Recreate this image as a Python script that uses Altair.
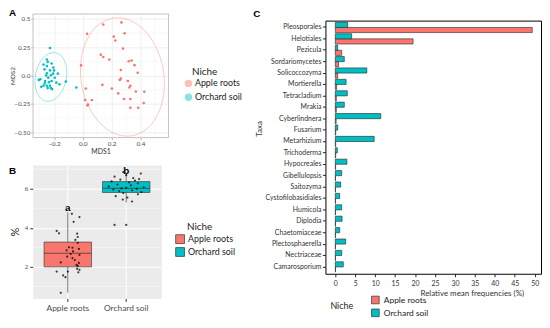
import altair as alt
import pandas as pd
import numpy as np

RED = "#F8766D"
TEAL = "#00BFC4"
FONT = "Lato"
niches = ["Apple roots", "Orchard soil"]

# ---------------- Panel A : NMDS ----------------
apple_mds1 = [0.142, 0.268, 0.030, 0.215, 0.290, 0.226, 0.279, 0.125, 0.142, 0.184, 0.319, 0.339,
              0.359, -0.012, 0.264, 0.381, 0.264, 0.257, 0.313, 0.330, 0.323, 0.136, 0.202, 0.021,
              0.368, 0.427, 0.246, 0.286, 0.330, 0.423, 0.015, 0.063, 0.036, 0.032, 0.330, 0.385]
apple_mds2 = [0.450, 0.468, 0.367, 0.343, 0.372, 0.309, 0.237, 0.184, 0.163, 0.141, 0.126, 0.132,
              0.091, 0.089, 0.048, 0.024, -0.028, -0.039, -0.048, -0.091, -0.106, -0.083, -0.115, -0.115,
              -0.141, -0.143, -0.158, -0.207, -0.207, -0.242, -0.216, -0.216, -0.257, -0.265, -0.285, -0.285]
soil_mds1 = [-0.228, -0.250, -0.244, -0.273, -0.217, -0.250, -0.266, -0.228, -0.200, -0.250, -0.207, -0.174,
             -0.222, -0.240, -0.295, -0.306, -0.262, -0.217, -0.184, -0.118, -0.273, -0.250, -0.228, -0.222,
             -0.213, -0.244, -0.288, -0.162, -0.045, -0.255, -0.235, -0.195, -0.265, -0.205]
soil_mds2 = [0.242, 0.141, 0.120, 0.097, 0.106, 0.083, 0.054, 0.045, 0.045, 0.019, 0.016, 0.016,
             0.002, -0.019, -0.033, -0.039, -0.048, -0.048, -0.063, -0.054, -0.091, -0.091, -0.091, -0.111,
             -0.120, -0.111, -0.100, -0.077, -0.106, 0.000, -0.060, -0.020, -0.070, 0.070]

# stat_ellipse outlines: centre, half-extents and covariance term
ell_cx = [0.275, -0.222]
ell_cy = [-0.013, -0.013]
ell_w = [0.2914, 0.1106]
ell_h = [0.5217, 0.2148]
ell_c = [-0.01728, 0.00426]

A_x_ticks = [-0.2, 0.0, 0.2, 0.4]
A_x_minor = [-0.3, -0.1, 0.1, 0.3, 0.5]
A_y_ticks = [-0.5, -0.25, 0.0, 0.25, 0.5]
A_y_labels = ["\u22120.50", "\u22120.25", "0.0", "0.25", "0.5"]
A_y_minor = [-0.375, -0.125, 0.125, 0.375]

# ---------------- Panel B : boxplot ----------------
apple_pct = [4.72, 4.55, 4.31, 3.84, 3.72, 3.70, 3.53, 3.38, 3.23, 3.00, 2.98, 2.92, 2.85, 2.79, 2.66, 2.62,
             2.53, 2.45, 2.35, 2.23, 2.20, 2.10, 2.05, 1.90, 1.85, 1.76, 1.76, 1.72, 1.56, 1.47, 0.67]
apple_jit = [0.07, 0.20, 0.10, -0.19, -0.15, 0.16, 0.17, 0.13, 0.17, 0.02, 0.08, 0.19, -0.02, 0.09, 0.05, 0.20,
             -0.01, 0.08, 0.12, -0.12, 0.19, 0.15, 0.17, 0.16, 0.20, -0.19, 0.00, 0.18, -0.08, -0.04, -0.12]
soil_pct = [6.85, 6.78, 6.70, 6.62, 6.55, 6.50, 6.47, 6.42, 6.38, 6.33, 6.28, 6.22, 6.18, 6.12, 6.08, 6.05,
            6.02, 6.00, 5.96, 5.92, 5.88, 5.83, 5.78, 5.72, 5.62, 5.55, 5.45, 5.35, 4.15, 4.15]
soil_jit = [-0.05, 0.25, 0.00, -0.20, 0.12, 0.22, -0.10, 0.15, -0.25, 0.05, 0.20, -0.15, 0.08, -0.30, 0.30, 0.00,
            -0.08, 0.18, -0.22, 0.10, -0.12, 0.26, -0.05, 0.20, -0.18, 0.02, -0.06, 0.10, -0.20, 0.00]
box_lower = [0.68, 5.30]
box_q1 = [2.00, 5.81]
box_median = [2.70, 6.03]
box_q3 = [3.27, 6.37]
box_upper = [4.80, 6.75]
sig_letters = ["a", "b"]
sig_y = [5.0, 6.93]
B_y_ticks = [2, 4, 6]
B_y_minor = [1, 3, 5, 7]

# ---------------- Panel C : relative frequencies ----------------
taxa = ["Pleosporales", "Helotiales", "Pezicula", "Sordariomycetes", "Solicoccozyma", "Mortierella",
        "Tetracladium", "Mrakia", "Cyberlindnera", "Fusarium", "Metarhizium", "Trichoderma", "Hypocreales",
        "Gibellulopsis", "Saitozyma", "Cystofilobasidiales", "Humicola", "Diplodia", "Chaetomiaceae",
        "Plectosphaerella", "Nectriaceae", "Camarosporium"]
apple_freq = [49.4, 19.5, 1.6, 0.8, 0.6, 0.33, 0.25, 0.25, 0.2, 0.1, 0.1, 0.1, 0.08, 0.05, 0.05, 0.05,
              0.05, 0.05, 0.05, 0.05, 0.05, 0.05]
soil_freq = [3.1, 4.1, 0.6, 2.25, 7.9, 2.7, 3.0, 2.25, 11.4, 0.6, 9.75, 0.5, 2.9, 1.6, 1.35, 1.1,
             1.6, 1.7, 1.1, 2.6, 1.6, 2.0]
C_x_ticks = [0, 5, 10, 15, 20, 25, 30, 35, 40, 45, 50]

color_scale = alt.Scale(domain=niches, range=[RED, TEAL])

# ======================= Panel A =======================
dfA = pd.DataFrame({
    "MDS1": apple_mds1 + soil_mds1,
    "MDS2": apple_mds2 + soil_mds2,
    "Niche": ["Apple roots"] * len(apple_mds1) + ["Orchard soil"] * len(soil_mds1),
})
t = np.linspace(0, 2 * np.pi, 145)
ell_rows = []
for k, n in enumerate(niches):
    l21 = ell_c[k] / ell_w[k]
    l22 = np.sqrt(ell_h[k] ** 2 - l21 ** 2)
    for i, tt in enumerate(t):
        ell_rows.append({"Niche": n, "i": i,
                         "ex": ell_cx[k] + ell_w[k] * np.cos(tt),
                         "ey": ell_cy[k] + l21 * np.cos(tt) + l22 * np.sin(tt)})
dfE = pd.DataFrame(ell_rows)

xsA = alt.Scale(domain=[-0.348, 0.593], nice=False, zero=False)
ysA = alt.Scale(domain=[-0.545, 0.545], nice=False, zero=False)
ylabA = " : ".join(f"datum.value == {v} ? '{l}'" for v, l in zip(A_y_ticks, A_y_labels)) + " : ''"

axAx = alt.Axis(values=A_x_ticks, format=".1f", title="MDS1", grid=True, gridColor="#e4e4e4", gridWidth=0.6,
                domain=False, tickColor="#b3b3b3", tickSize=2.5, labelFontSize=6.3, labelColor="#4d4d4d",
                labelPadding=1, titleFontSize=7, titleFontWeight="normal", titleColor="#333", titlePadding=1)
axAy = alt.Axis(values=A_y_ticks, labelExpr=ylabA, title="MDS2", grid=True, gridColor="#e4e4e4", gridWidth=0.6,
                domain=False, tickColor="#b3b3b3", tickSize=2, labelFontSize=6.3, labelColor="#4d4d4d",
                labelPadding=1, titleFontSize=6.5, titleFontWeight="normal", titleColor="#333", titlePadding=-2)
legA = alt.Legend(title="Niche", orient="none", legendX=161, legendY=54, symbolType="circle", symbolSize=36,
                  titleFontSize=10, titleFontWeight="normal", titleColor="#222", labelFontSize=9,
                  labelColor="#222", rowPadding=1, titlePadding=2, symbolOffset=-8, labelOffset=2)

gridA_x = alt.Chart(pd.DataFrame({"v": A_x_minor})).mark_rule(color="#f0f0f0", strokeWidth=0.5).encode(
    x=alt.X("v:Q", scale=xsA, axis=axAx))
gridA_y = alt.Chart(pd.DataFrame({"v": A_y_minor})).mark_rule(color="#f0f0f0", strokeWidth=0.5).encode(
    y=alt.Y("v:Q", scale=ysA, axis=axAy))
ellA = alt.Chart(dfE).mark_line(strokeWidth=0.9, opacity=0.45).encode(
    x=alt.X("ex:Q", scale=xsA, axis=axAx),
    y=alt.Y("ey:Q", scale=ysA, axis=axAy),
    color=alt.Color("Niche:N", scale=color_scale, legend=legA),
    order="i:Q",
)
ptsA = alt.Chart(dfA).mark_circle(size=7, opacity=1).encode(
    x=alt.X("MDS1:Q", scale=xsA, axis=axAx),
    y=alt.Y("MDS2:Q", scale=ysA, axis=axAy),
    color=alt.Color("Niche:N", scale=color_scale, legend=legA),
)
chartA = alt.layer(gridA_x, gridA_y, ellA, ptsA).properties(
    width=137, height=125,
    view=alt.ViewBackground(fill="white", stroke="#b3b3b3", strokeWidth=0.8),
    title=alt.TitleParams("A", anchor="start", frame="group", fontSize=10, font="Liberation Sans",
                          fontWeight="bold", color="black", offset=0, dx=-24, dy=5),
)

# ======================= Panel B =======================
dfBp = pd.DataFrame({
    "Niche": ["Apple roots"] * len(apple_pct) + ["Orchard soil"] * len(soil_pct),
    "pct": apple_pct + soil_pct,
    "jit": apple_jit + soil_jit,
})
dfBb = pd.DataFrame({"Niche": niches, "lower": box_lower, "q1": box_q1, "median": box_median,
                     "q3": box_q3, "upper": box_upper, "lab": sig_letters, "laby": sig_y})
xsB = alt.Scale(domain=niches, paddingInner=0, paddingOuter=0.1)
ysB = alt.Scale(domain=[0.38, 7.22], nice=False, zero=False)
axBx = alt.Axis(title=None, labelAngle=0, grid=True, gridColor="white", gridWidth=1, bandPosition=0.5,
                domain=False, tickColor="#333", tickSize=3, labelFontSize=8.5, labelColor="#4d4d4d", labelPadding=2)
axBy = alt.Axis(values=B_y_ticks, title="%", grid=True, gridColor="white", gridWidth=1, domain=False,
                tickColor="#333", tickSize=3, labelFont="Liberation Serif", labelFontSize=7, labelColor="#4d4d4d",
                labelPadding=2, titleFontSize=11, titleFontWeight="normal", titleColor="#222", titlePadding=4)

gridB = alt.Chart(pd.DataFrame({"v": B_y_minor})).mark_rule(color="white", strokeWidth=0.5).encode(
    y=alt.Y("v:Q", scale=ysB, axis=axBy))
whisk = alt.Chart(dfBb).mark_rule(color="#555", strokeWidth=0.8).encode(
    x=alt.X("Niche:N", scale=xsB, axis=axBx),
    y=alt.Y("lower:Q", scale=ysB, axis=axBy),
    y2="upper:Q",
)
boxes = alt.Chart(dfBb).mark_bar(size=48, stroke="#444", strokeWidth=0.7).encode(
    x=alt.X("Niche:N", scale=xsB, axis=axBx),
    y=alt.Y("q1:Q", scale=ysB, axis=axBy),
    y2="q3:Q",
    color=alt.Color("Niche:N", scale=color_scale, legend=alt.Legend(
        title="Niche", orient="none", legendX=156, legendY=58, symbolType="square", symbolSize=80,
        symbolStrokeColor="#333", symbolStrokeWidth=0.7, titleFontSize=10, titleFontWeight="normal",
        titleColor="#222", labelFontSize=9, labelColor="#222", rowPadding=1, titlePadding=2,
        symbolOffset=-12, labelOffset=3)),
)
medians = alt.Chart(dfBb).mark_tick(size=48, thickness=1, color="#333").encode(
    x=alt.X("Niche:N", scale=xsB, axis=axBx),
    y=alt.Y("median:Q", scale=ysB, axis=axBy),
)
ptsB = alt.Chart(dfBp).mark_circle(size=5, color="black", opacity=0.75).encode(
    x=alt.X("Niche:N", scale=xsB, axis=axBx),
    xOffset=alt.XOffset("jit:Q", scale=alt.Scale(domain=[-0.5, 0.5])),
    y=alt.Y("pct:Q", scale=ysB, axis=axBy),
)
letters = alt.Chart(dfBb).mark_text(fontSize=10, fontWeight="bold", color="black", font="Liberation Sans",
                                     baseline="middle").encode(
    x=alt.X("Niche:N", scale=xsB, axis=axBx),
    y=alt.Y("laby:Q", scale=ysB, axis=axBy),
    text="lab:N",
)
chartB = alt.layer(gridB, whisk, boxes, medians, ptsB, letters).properties(
    width=130, height=135,
    view=alt.ViewBackground(fill="#EBEBEB", stroke="transparent"),
    title=alt.TitleParams("B", anchor="start", frame="group", fontSize=10, font="Liberation Sans",
                          fontWeight="bold", color="black", offset=0, dx=-24, dy=11),
)

# ======================= Panel C =======================
dfC = pd.DataFrame({
    "Taxa": taxa * 2,
    "Niche": ["Apple roots"] * len(taxa) + ["Orchard soil"] * len(taxa),
    "freq": apple_freq + soil_freq,
})
chartC = alt.Chart(dfC).mark_bar(stroke="#222", strokeWidth=0.6).encode(
    y=alt.Y("Taxa:N", sort=taxa, scale=alt.Scale(paddingInner=0.1, paddingOuter=0.15), axis=alt.Axis(
        title="Taxa", domain=False, tickColor="#222", tickSize=3, labelFontSize=7, labelColor="#333",
        labelPadding=1.5, titleFontSize=8, titleFontWeight="normal", titleColor="#333",
        titleX=-63, titleY=109)),
    yOffset=alt.YOffset("Niche:N", sort=["Orchard soil", "Apple roots"]),
    x=alt.X("freq:Q", scale=alt.Scale(domain=[-2.48, 51.6], nice=False, zero=False), axis=alt.Axis(
        values=C_x_ticks, title="Relative mean frequencies (%)", grid=False, domain=False, tickColor="#222",
        tickSize=3, labelFontSize=7, labelColor="#333", labelPadding=3, titleFontSize=8,
        titleFontWeight="normal", titleColor="#333", titleX=148, titlePadding=3)),
    x2=alt.datum(0),
    color=alt.Color("Niche:N", scale=color_scale, legend=alt.Legend(
        title="Niche", orient="none", legendX=5, legendY=285, direction="vertical", titleOrient="left",
        symbolType="square", symbolSize=60, symbolStrokeColor="#333", symbolStrokeWidth=0.7,
        titleFontSize=9, titleFontWeight="normal", titleColor="#222", labelFontSize=8.5, labelColor="#222",
        rowPadding=2, titlePadding=17, labelOffset=4)),
).properties(
    width=218, height=256,
    view=alt.ViewBackground(fill="white", stroke="black", strokeWidth=1),
    title=alt.TitleParams("C", anchor="start", frame="group", fontSize=10, font="Liberation Sans",
                          fontWeight="bold", color="black", offset=0, dx=-73, dy=-2),
)

spacer = alt.Chart(pd.DataFrame({"s": [0]})).mark_point(opacity=0).encode(
    x=alt.X("s:Q", axis=None), y=alt.Y("s:Q", axis=None)
).properties(width=10, height=1, view=alt.ViewBackground(stroke="transparent"))

left = alt.vconcat(chartA, chartB, spacing=28, bounds="flush").resolve_scale(color="independent")
right = alt.vconcat(spacer, chartC, spacing=6, bounds="flush")
chart = alt.hconcat(left, right, spacing=296, bounds="flush").resolve_scale(
    color="independent").properties(padding={"left": 0, "top": -2, "right": 0, "bottom": 0}).configure(
    font=FONT).configure_view(continuousWidth=100)

chart.save("out.html", embed_options={"renderer": "svg", "actions": False})
